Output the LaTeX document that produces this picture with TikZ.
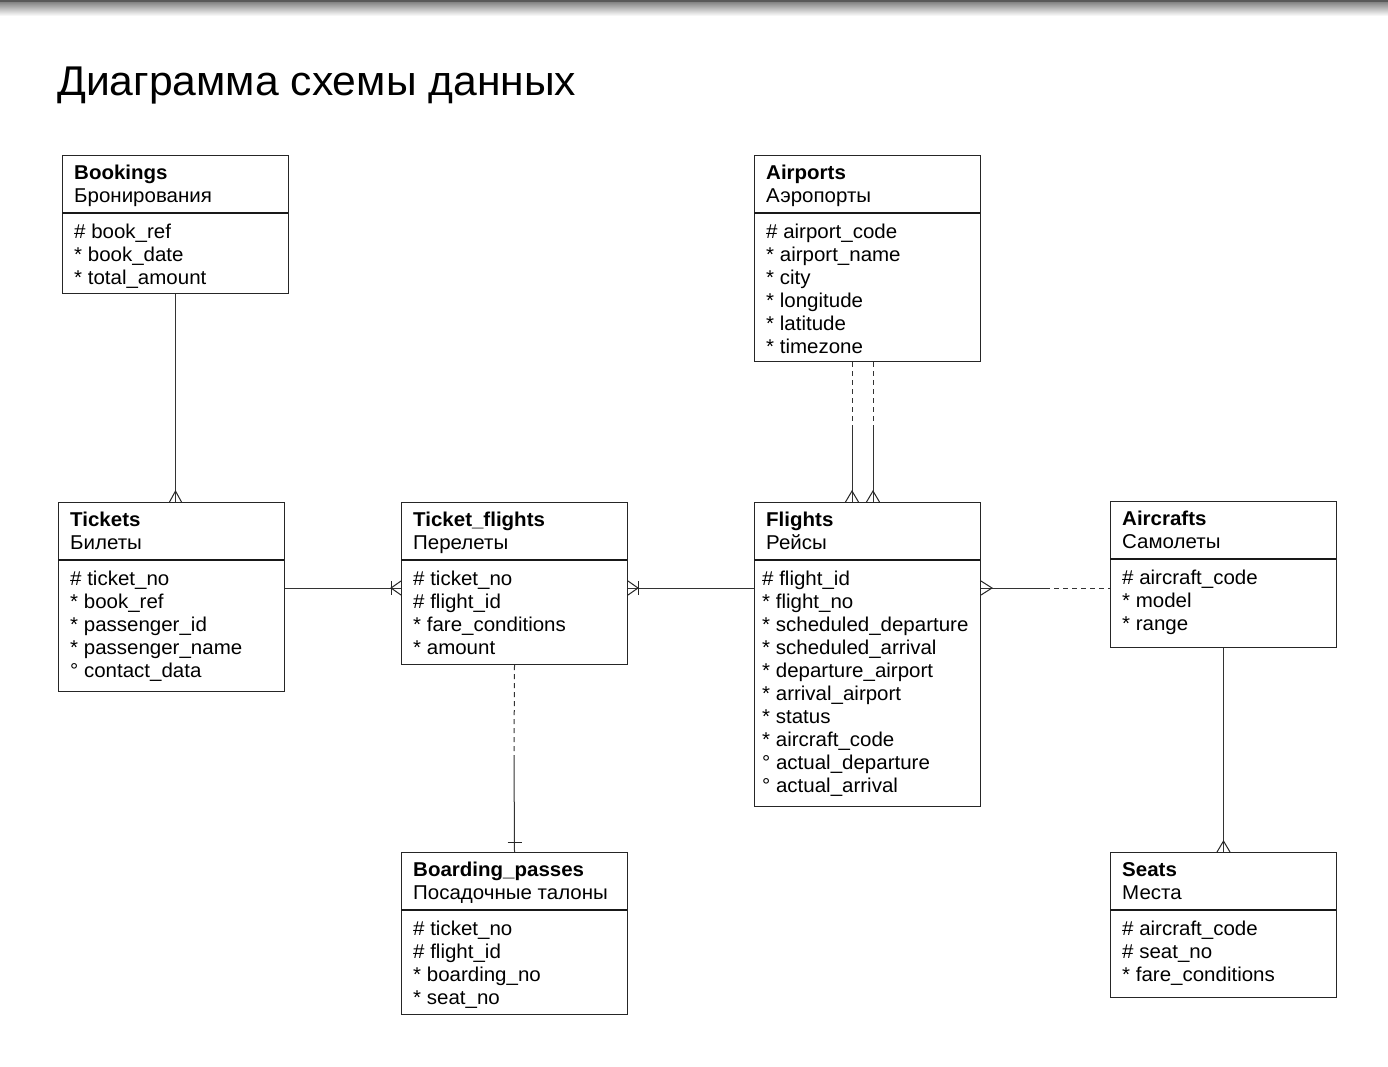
\documentclass[tikz,border=0pt]{standalone}
\usepackage{fontspec}
\setmainfont{Liberation Sans}[FakeStretch=1.025]
\usetikzlibrary{calc}
\tikzset{
  ebox/.style={draw=black!85, line width=1pt, fill=white, minimum width=226pt, inner sep=0pt},
  divider/.style={draw=black!90, line width=1.4pt},
  etitle/.style={inner sep=0pt, font=\fontsize{20}{23}\selectfont\bfseries},
  etext/.style={inner sep=0pt, font=\fontsize{20}{23}\selectfont},
  conn/.style={draw=black!80, line width=1pt},
  dashconn/.style={conn, dash pattern=on 5pt off 4pt},
  foot/.style={draw=black!85, line width=1pt},
}
\newcommand{\erbox}[8]{%
  \node[ebox, minimum height=#4, anchor=north west] (#1) at (#2,#3) {};
  \draw[divider] (#2,#3+58) -- ++(226,0);
  \node[etitle, anchor=base west] (#1-t) at (#2+12,#3+24) {#5};
  \node[etext, anchor=base west] (#1-s) at (#2+12,#3+47) {#6};
  \foreach \a [count=\k from 0] in {#7}
    \node[etext, anchor=base west] (#1-a\k) at (#2+#8,#3+83+23*\k) {\a};
}
\begin{document}
\begin{tikzpicture}[x=1pt,y=-1pt]
\useasboundingbox (0,0) rectangle (1388,1066);
\fill[white] (0,0) rectangle (1388,1066);
\shade[top color=black!55, bottom color=white] (0,0) rectangle (1388,16);
\fill[black!65] (0,0) rectangle (1388,2);

\node[anchor=base west, inner sep=0pt, font=\fontsize{41.6}{48}\selectfont] (title) at (57,95) {Диаграмма схемы данных};

\erbox{bookings}{62}{155}{138pt}{Bookings}{Бронирования}{\# book\_ref,* book\_date,* total\_amount}{12}
\erbox{airports}{754}{155}{206pt}{Airports}{Аэропорты}{\# airport\_code,* airport\_name,* city,* longitude,* latitude,* timezone}{12}
\erbox{tickets}{58}{502}{189pt}{Tickets}{Билеты}{\# ticket\_no,* book\_ref,* passenger\_id,* passenger\_name,° contact\_data}{12}
\erbox{tf}{401}{502}{162pt}{Ticket\_flights}{Перелеты}{\# ticket\_no,\# flight\_id,* fare\_conditions,* amount}{12}
\erbox{flights}{754}{502}{304pt}{Flights}{Рейсы}{\# flight\_id,* flight\_no,* scheduled\_departure,* scheduled\_arrival,* departure\_airport,* arrival\_airport,* status,* aircraft\_code,° actual\_departure,° actual\_arrival}{8}
\erbox{aircrafts}{1110}{501}{146pt}{Aircrafts}{Самолеты}{\# aircraft\_code,* model,* range}{12}
\erbox{bp}{401}{852}{162pt}{Boarding\_passes}{Посадочные талоны}{\# ticket\_no,\# flight\_id,* boarding\_no,* seat\_no}{12}
\erbox{seats}{1110}{852}{145pt}{Seats}{Места}{\# aircraft\_code,\# seat\_no,* fare\_conditions}{12}

% helper coordinates
\coordinate (rowy) at (0,588);
\coordinate (apx1) at (852,0);
\coordinate (apx2) at (873,0);

% Bookings -> Tickets
\draw[conn] (bookings.south) -- (bookings.south |- tickets.north);
\draw[foot] (bookings.south |- tickets.north) ++(-6,0) -- ++(6,-11) -- ++(6,11);

% Tickets -> Ticket_flights
\draw[conn] (tickets.east |- rowy) -- (tf.west |- rowy);
\draw[foot] (tf.west |- rowy) ++(0,-7) -- ++(-10,7) -- ++(10,7);
\draw[foot] (tf.west |- rowy) ++(-10,-7) -- ++(0,14);

% Ticket_flights -> Flights
\draw[conn] (tf.east |- rowy) -- (flights.west |- rowy);
\draw[foot] (tf.east |- rowy) ++(0,-7) -- ++(10,7) -- ++(-10,7);
\draw[foot] (tf.east |- rowy) ++(10,-7) -- ++(0,14);

% Flights -> Aircrafts
\coordinate (fa) at (1045,588);
\draw[conn] (flights.east |- rowy) -- (fa);
\draw[dashconn] (fa) -- (aircrafts.west |- rowy);
\draw[foot] (flights.east |- rowy) ++(0,-7) -- ++(11,7) -- ++(-11,7);

% Airports -> Flights (two)
\foreach \c in {apx1,apx2}{
  \coordinate (d-\c) at (\c |- 0,430);
  \draw[dashconn] (airports.south -| \c) -- (d-\c);
  \draw[conn] (d-\c) -- (flights.north -| \c);
  \draw[foot] (flights.north -| \c) ++(-6.5,0) -- ++(6.5,-11) -- ++(6.5,11);
}

% Ticket_flights -> Boarding_passes
\coordinate (tbd) at (514,755);
\draw[dashconn] (tf.south) -- (tbd);
\draw[conn] (tbd) -- (bp.north);
\draw[foot] (bp.north) ++(-7,-10) -- ++(14,0);

% Aircrafts -> Seats
\draw[conn] (aircrafts.south) -- (seats.north);
\draw[foot] (seats.north) ++(-6.5,0) -- ++(6.5,-11) -- ++(6.5,11);
\end{tikzpicture}
\end{document}
